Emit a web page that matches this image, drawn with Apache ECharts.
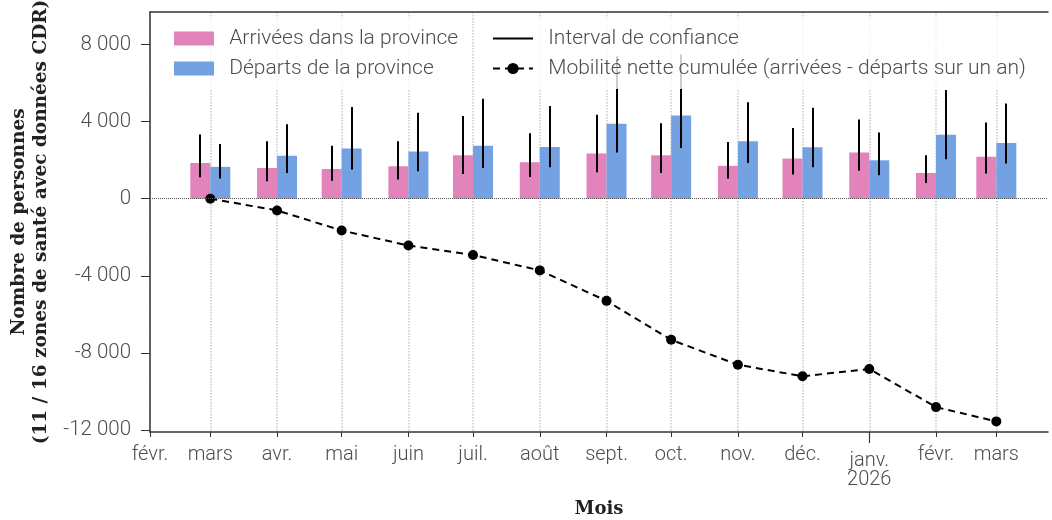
<!DOCTYPE html>
<html>
<head>
<meta charset="utf-8">
<script src="https://cdn.jsdelivr.net/npm/echarts@6/dist/echarts.min.js"></script>
<style>html,body{margin:0;padding:0;background:#fff}#c{width:1052px;height:520px}</style>
</head>
<body>
<div id="c"></div>
<script>
// ---- data ----
const monthNames = ['janv.','févr.','mars','avr.','mai','juin','juil.','août','sept.','oct.','nov.','déc.'];
const tickMonths = [[2025,1],[2025,2],[2025,3],[2025,4],[2025,5],[2025,6],[2025,7],[2025,8],[2025,9],[2025,10],[2025,11],[2026,0],[2026,1],[2026,2]];
const dataMonths = [[2025,2],[2025,3],[2025,4],[2025,5],[2025,6],[2025,7],[2025,8],[2025,9],[2025,10],[2025,11],[2026,0],[2026,1],[2026,2]];
const arrivals      = [1850, 1590, 1540, 1680, 2250, 1890, 2340, 2250, 1700, 2080, 2390, 1330, 2170];
const arrivalsLow   = [1110,  900,  935,  990, 1280, 1130, 1370, 1330, 1040, 1250, 1450,  810, 1300];
const arrivalsHigh  = [3330, 2980, 2750, 2980, 4290, 3390, 4350, 3910, 2940, 3670, 4100, 2250, 3950];
const departures    = [1650, 2220, 2600, 2440, 2740, 2680, 3880, 4310, 2980, 2670, 1990, 3310, 2890];
const departuresLow = [1040, 1330, 1510, 1420, 1590, 1630, 2390, 2630, 1850, 1630, 1210, 2040, 1820];
const departuresHigh= [2840, 3860, 4760, 4450, 5180, 4800, 7380, 7480, 5000, 4710, 3430, 5630, 4940];
const netCumul      = [0, -610, -1650, -2430, -2920, -3720, -5300, -7320, -8610, -9210, -8830, -10810, -11550];
const yTicks = [-12000, -8000, -4000, 0, 4000, 8000];
const yName = 'Nombre de personnes\n(11 / 16 zones de santé avec données CDR)';
const xName = 'Mois';
const seriesNames = ['Arrivées dans la province','Départs de la province','Interval de confiance','Mobilité nette cumulée (arrivées - départs sur un an)'];

// ---- build ----
const ts = (y,m,d) => Date.UTC(y,m,d||1);
const tickValues = tickMonths.map(a => ts(a[0],a[1]));
const dates = dataMonths.map(a => ts(a[0],a[1]));
const xMin = ts(2025,1,1);
const xMax = ts(2026,2,25);
const janTick = [ts(2026,0,1)];

const pink = '#E283BC';
const blue = '#74A1E2';
const textCol = '#4d4d4d';
const axisCol = '#333';
const BW = 20;

function errRender(offset){
  return function(params, api){
    const lo = api.coord([api.value(0), api.value(1)]);
    const hi = api.coord([api.value(0), api.value(2)]);
    const x = Math.round(lo[0] + offset);
    return {type:'line', shape:{x1:x, y1:lo[1], x2:x, y2:hi[1]}, style:{stroke:'#000', lineWidth:2}};
  };
}

const fmtNum = v => {
  const s = Math.abs(v).toString().replace(/\B(?=(\d{3})+(?!\d))/g, ' ');
  return (v < 0 ? '-' : '') + s;
};

const chart = echarts.init(document.getElementById('c'), null, {renderer:'canvas'});
chart.setOption({
  animation:false,
  backgroundColor:'#fff',
  grid:{left:150, right:4, top:12, bottom:88, containLabel:false, outerBoundsMode:'none'},
  legend:[
    {
      data:[seriesNames[0], seriesNames[1]],
      orient:'vertical', left:164, top:18, padding:10, itemGap:9,
      itemWidth:40, itemHeight:14, icon:'rect',
      backgroundColor:'rgba(255,255,255,0.8)',
      formatter: n => '  ' + n,
      textStyle:{fontFamily:'Roboto', fontWeight:300, fontSize:21, color:textCol}
    },
    {
      data:[{name:seriesNames[2], icon:'path://M0 0H40V2H0Z'}, seriesNames[3]],
      orient:'vertical', left:482, top:18, padding:10, itemGap:9,
      itemWidth:40, itemHeight:14,
      backgroundColor:'rgba(255,255,255,0.8)',
      formatter: n => '  ' + n,
      textStyle:{fontFamily:'Roboto', fontWeight:300, fontSize:21, color:textCol}
    }
  ],
  xAxis:[
    {
      type:'value', min:xMin, max:xMax, scale:true,
      name:xName, nameLocation:'middle', nameGap:68,
      nameTextStyle:{fontFamily:'DejaVu Serif', fontWeight:'bold', fontSize:18, color:'#222'},
      axisLine:{show:true, onZero:false, lineStyle:{color:axisCol, width:1.5}},
      axisTick:{show:true, customValues:tickValues, length:5, lineStyle:{color:axisCol, width:1}},
      axisLabel:{
        customValues:tickValues, margin:11, hideOverlap:false, showMinLabel:true, showMaxLabel:true,
        fontFamily:'Roboto', fontWeight:300, fontSize:20, color:textCol, lineHeight:23,
        formatter: v => {
          const d = new Date(v);
          const m = d.getUTCMonth();
          if (m === 0) return '{jt|' + monthNames[m] + '}\n{j|' + d.getUTCFullYear() + '}';
          return monthNames[m];
        },
        rich:{
          jt:{fontFamily:'Roboto', fontWeight:300, fontSize:20, color:textCol, lineHeight:23, padding:[12,0,0,0]},
          j:{fontFamily:'Roboto', fontWeight:300, fontSize:20, color:textCol, lineHeight:27}
        }
      },
      splitLine:{show:true, lineStyle:{type:'dotted', color:'#c8c8c8', width:1.5}}
    },
    {
      type:'value', min:xMin, max:xMax, scale:true, position:'bottom',
      axisLine:{show:false, onZero:false},
      axisTick:{show:true, customValues:janTick, length:11, lineStyle:{color:axisCol, width:1.2}},
      axisLabel:{show:false},
      splitLine:{show:false}
    },
    {
      type:'value', min:xMin, max:xMax, scale:true, position:'top',
      axisLine:{show:true, onZero:false, lineStyle:{color:axisCol, width:1.5}},
      axisTick:{show:false}, axisLabel:{show:false}, splitLine:{show:false}
    }
  ],
  yAxis:{
    type:'value', min:-12100, max:9680,
    name:yName, nameLocation:'middle', nameRotate:90, nameGap:95,
    nameTextStyle:{fontFamily:'DejaVu Serif', fontWeight:'bold', fontSize:18.5, color:'#222', lineHeight:22, align:'center'},
    axisLine:{show:true, onZero:false, lineStyle:{color:axisCol, width:1.5}},
    axisTick:{show:true, customValues:yTicks, length:9, lineStyle:{color:axisCol, width:1}},
    axisLabel:{customValues:yTicks, margin:19, fontFamily:'Roboto', fontWeight:300, fontSize:20.5, color:textCol, formatter:fmtNum},
    splitLine:{show:false}
  },
  series:[
    {
      name:seriesNames[0], type:'bar', barWidth:BW, barGap:'0%',
      itemStyle:{color:pink},
      data: dates.map((d,i) => [d, arrivals[i]]),
      markLine:{silent:true, symbol:'none', label:{show:false},
        lineStyle:{type:'dotted', color:'#555', width:1}, data:[{yAxis:0}]},
      z:2
    },
    {
      name:seriesNames[1], type:'bar', barWidth:BW, barGap:'0%',
      itemStyle:{color:blue},
      data: dates.map((d,i) => [d, departures[i]]),
      z:2
    },
    {
      name:seriesNames[2], type:'custom', renderItem:errRender(-BW/2),
      itemStyle:{color:'#000'},
      encode:{x:0, y:[1,2]},
      data: dates.map((d,i) => [d, arrivalsLow[i], arrivalsHigh[i]]),
      z:3
    },
    {
      name:seriesNames[2], type:'custom', renderItem:errRender(BW/2),
      itemStyle:{color:'#000'},
      encode:{x:0, y:[1,2]},
      data: dates.map((d,i) => [d, departuresLow[i], departuresHigh[i]]),
      z:3
    },
    {
      name:seriesNames[3], type:'line',
      data: dates.map((d,i) => [d, netCumul[i]]),
      symbol:'circle', symbolSize:10,
      itemStyle:{color:'#000'},
      lineStyle:{color:'#000', width:2, type:[7,5]},
      z:4
    }
  ]
});
</script>
</body>
</html>
